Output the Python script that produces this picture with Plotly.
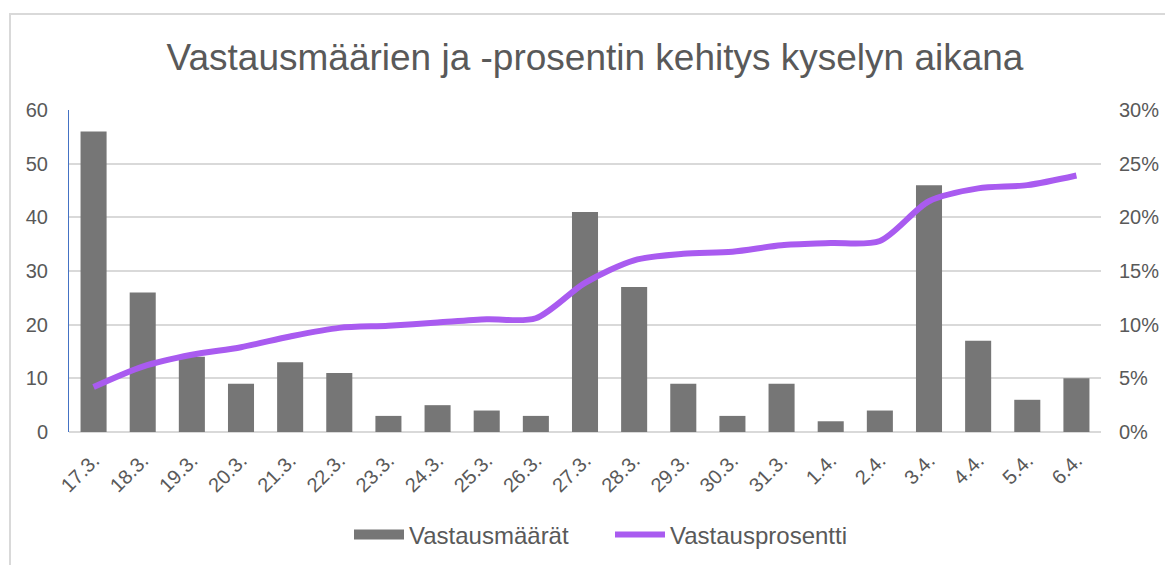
import plotly.graph_objects as go

dates = ["17.3.", "18.3.", "19.3.", "20.3.", "21.3.", "22.3.", "23.3.", "24.3.", "25.3.", "26.3.",
         "27.3.", "28.3.", "29.3.", "30.3.", "31.3.", "1.4.", "2.4.", "3.4.", "4.4.", "5.4.", "6.4."]
counts = [56, 26, 14, 9, 13, 11, 3, 5, 4, 3, 41, 27, 9, 3, 9, 2, 4, 46, 17, 6, 10]
rates = [4.2, 6.1, 7.2, 7.9, 8.9, 9.7, 9.9, 10.2, 10.5, 10.6, 13.9, 16.0, 16.6, 16.8, 17.4,
         17.6, 17.8, 21.5, 22.7, 23.0, 23.9]
rates_frac = [r / 100 for r in rates]

# page body has an 8px margin; work in reference-pixel coordinates
OFF = 8
VW, VH = 1173, 565
W, H = VW - OFF, VH - OFF
PL, PR, PT, PB = 69, 1101, 110, 432  # plot area in reference pixels
L, R, T, B = PL - OFF, VW - PR, PT - OFF, VH - PB
pw, ph = PR - PL, PB - PT

def px(x):
    return (x - PL) / pw

def py(y):
    return (PB - y) / ph

txt = "#595959"
font = "Liberation Sans, Arial, sans-serif"
bar_col = "#767676"
line_col = "#a95bf0"

fig = go.Figure()
fig.add_trace(go.Bar(x=dates, y=counts, name="Vastausmäärät", marker_color=bar_col,
                     marker_line_width=0, yaxis="y", showlegend=False))
fig.add_trace(go.Scatter(x=dates, y=rates_frac, name="Vastausprosentti", mode="lines",
                         line=dict(color=line_col, width=6, shape="spline", smoothing=0.8),
                         yaxis="y2", showlegend=False))
# legend entries (wide swatches like the original)
fig.add_trace(go.Scatter(x=[None], y=[None], name="Vastausmäärät", mode="lines",
                         line=dict(color=bar_col, width=15), yaxis="y", legendrank=1))
fig.add_trace(go.Scatter(x=[None], y=[None], name="Vastausprosentti", mode="lines",
                         line=dict(color=line_col, width=6), yaxis="y2", legendrank=2))

fig.update_layout(
    width=W, height=H,
    margin=dict(l=L, r=R, t=T, b=B, autoexpand=False),
    paper_bgcolor="white", plot_bgcolor="white",
    font=dict(family=font, color=txt, size=20),
    title=dict(text="Vastausmäärien ja -prosentin kehitys kyselyn aikana",
               x=(595 - OFF) / W, xanchor="center", y=1 - (57 - OFF) / H, yanchor="middle",
               font=dict(size=37, color=txt, family=font)),
    bargap=0.47,
    showlegend=True,
    legend=dict(orientation="h", x=px(349), xanchor="left", y=py(535), yanchor="middle",
                font=dict(size=24, color=txt), traceorder="normal", itemwidth=50,
                entrywidth=196, bgcolor="rgba(0,0,0,0)"),
    xaxis=dict(type="category", tickangle=-45, tickfont=dict(size=20, color=txt),
               showgrid=False, showline=False, ticks="", range=[-0.5, 20.5],
               ticklabelstandoff=12, automargin=False),
    yaxis=dict(range=[0, 60], dtick=10, showgrid=True, gridcolor="#d9d9d9", gridwidth=1.5,
               zeroline=True, zerolinecolor="#d9d9d9", zerolinewidth=1.5,
               showline=True, linecolor="#4472c4", linewidth=1,
               tickfont=dict(size=20, color=txt), ticks="", ticklabelstandoff=16,
               automargin=False),
    yaxis2=dict(range=[0, 0.30], dtick=0.05, tickformat=".0%", overlaying="y", side="right",
                showgrid=False, zeroline=False, showline=False,
                tickfont=dict(size=20, color=txt), ticks="", ticklabelstandoff=17,
                automargin=False),
)

fig.add_shape(type="rect", xref="paper", yref="paper",
              x0=px(10), x1=px(1190), y0=py(585), y1=py(14),
              line=dict(color="#d9d9d9", width=2), fillcolor="rgba(0,0,0,0)", layer="below")

fig.write_html("out.html")
